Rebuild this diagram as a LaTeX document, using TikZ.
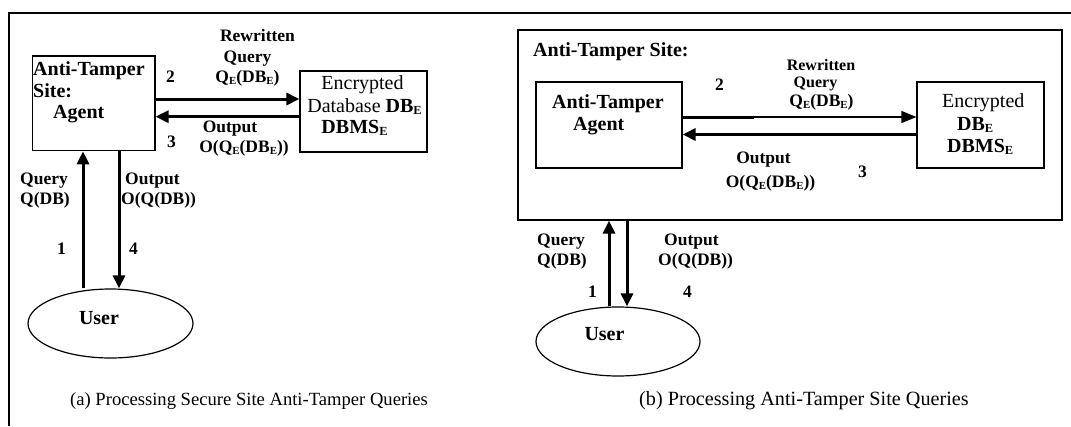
\documentclass[tikz,border=0pt]{standalone}
\usepackage{fontspec}
\setmainfont{Liberation Serif}
\usetikzlibrary{arrows.meta,shapes.geometric}
% small lowered subscript E
\newcommand{\sE}{\raisebox{-0.28ex}{\scalebox{0.62}{E}}}
\newcommand{\fsz}[1]{\fontsize{#1}{#1}\selectfont}
\begin{document}
\begin{tikzpicture}[x=1pt,y=-1pt,
  box/.style={draw,line width=1.2pt,inner sep=0pt},
  frameline/.style={line width=2.2pt},
  flow/.style={line width=3pt,-{Triangle[length=13pt,width=12pt]}},
  thinflow/.style={line width=1.2pt,-{Triangle[length=15pt,width=12pt]}},
  big/.style={font=\fsz{20}\bfseries,inner sep=0pt},
  plain/.style={font=\fsz{20},inner sep=0pt},
  lab/.style={font=\fsz{17.5}\bfseries,inner sep=0pt},
  smalllab/.style={font=\fsz{16}\bfseries,inner sep=0pt},
  captext/.style={inner sep=0pt,anchor=base west},
  userell/.style={draw,line width=1.2pt,ellipse,inner sep=0pt}]
\useasboundingbox (0,0) rectangle (1071,426);
\fill[white] (0,0) rectangle (1071,426);

% outer frame
\draw[frameline] (9,426) -- (9,12.7) -- (1071,12.7);

% ---------------- (a) ----------------
\node[box,minimum width=122.3pt,minimum height=94.7pt] (agA) at (93.85,103.35) {};
\node[box,minimum width=127pt,minimum height=81pt] (encA) at (363.5,111.5) {};
\node[userell,minimum width=165pt,minimum height=69pt] (userA) at (110.5,323.5) {};

\node[big,anchor=base west] (agA1) at (33,75) {Anti-Tamper};
\node[big,anchor=base west] (agA2) at (33,97) {Site:};
\node[big,anchor=base west] (agA3) at (53,118) {Agent};

\node[plain,anchor=base] (encA1) at (362.5,89) {Encrypted};
\node[plain,anchor=base] (encA2) at (364.5,112) {Database \textbf{DB\sE}};
\node[big,anchor=base] (encA3) at (354.5,133) {DBMS\sE};

\node[big,anchor=base] (userAt) at (99,324) {User};

\node[lab,anchor=base] (rwA1) at (257.5,41) {Rewritten};
\node[lab,anchor=base] (rwA2) at (247.5,62) {Query};
\node[lab,anchor=base] (rwA3) at (247.5,82) {Q\sE(DB\sE)};
\node[lab,anchor=base west] (nA2) at (166,82) {2};
\node[lab,anchor=base west] (nA3) at (167,147) {3};
\node[lab,anchor=base] (outA1) at (230,132) {Output};
\node[lab,anchor=base] (outA2) at (244,152) {O(Q\sE(DB\sE))};

\node[lab,anchor=base west] (qA1) at (20,184) {Query};
\node[lab,anchor=base west] (qA2) at (20,204) {Q(DB)};
\node[lab,anchor=base west] (oA1) at (125,184) {Output};
\node[lab,anchor=base west] (oA2) at (121,204) {O(Q(DB))};
\node[lab,anchor=base west] (nA1) at (57,254) {1};
\node[lab,anchor=base west] (nA4) at (129,254) {4};

\coordinate (fwA) at (0,99);
\coordinate (bkA) at (0,116.7);
\coordinate (upA) at (83,0);
\coordinate (dnA) at (119,0);
\draw[flow] (agA.east |- fwA) -- (encA.west |- fwA);
\draw[flow] (encA.west |- bkA) -- (agA.east |- bkA);
\draw[flow] (upA |- userA.north) -- (upA |- agA.south);
\draw[flow] (dnA |- agA.south) -- (dnA |- userA.north);

\node[captext,font=\fsz{18.6}] (capA) at (70,405) {(a) Processing Secure Site Anti-Tamper Queries};

% ---------------- (b) ----------------
\node[box,minimum width=544pt,minimum height=190pt] (site) at (790,125) {};
\node[big,anchor=base west] (siteT) at (533,56) {Anti-Tamper Site:};

\node[box,minimum width=146pt,minimum height=86pt] (agB) at (609,125) {};
\node[box,minimum width=127pt,minimum height=86pt] (encB) at (980.5,125) {};
\node[userell,minimum width=164pt,minimum height=69pt] (userB) at (618,341.5) {};

\node[big,anchor=base west] (agB1) at (552,108) {Anti-Tamper};
\node[big,anchor=base west] (agB2) at (573,130) {Agent};

\node[plain,anchor=base west] (encB1) at (942,107) {Encrypted};
\node[big,anchor=base west] (encB2) at (957,130) {DB\sE};
\node[big,anchor=base west] (encB3) at (947,152) {DBMS\sE};

\node[big,anchor=base] (userBt) at (604.5,340) {User};

\node[lab,anchor=base west] (nB2) at (715,90) {2};
\node[lab,anchor=base west] (nB3) at (858,177) {3};
\node[smalllab,anchor=base] (rwB1) at (821,70) {Rewritten};
\node[smalllab,anchor=base] (rwB2) at (815.5,87) {Query};
\node[lab,anchor=base] (rwB3) at (821.5,106) {Q\sE(DB\sE)};
\node[lab,anchor=base] (outB1) at (763.5,163) {Output};
\node[lab,anchor=base] (outB2) at (770.5,187) {O(Q\sE(DB\sE))};

\node[lab,anchor=base west] (qB1) at (537,245) {Query};
\node[lab,anchor=base west] (qB2) at (537,265) {Q(DB)};
\node[lab,anchor=base west] (oB1) at (664,245) {Output};
\node[lab,anchor=base west] (oB2) at (658,265) {O(Q(DB))};
\node[lab,anchor=base west] (nB1) at (588,297) {1};
\node[lab,anchor=base west] (nB4) at (683,297) {4};

\coordinate (fwB) at (0,117);
\coordinate (bkB) at (0,134.5);
\coordinate (split) at (754,117);
\coordinate (upB) at (609,0);
\coordinate (dnB) at (627,0);
\draw[line width=3pt] (agB.east |- fwB) -- (split);
\draw[thinflow] (split) -- (encB.west |- fwB);
\draw[flow] (encB.west |- bkB) -- (agB.east |- bkB);
\draw[flow] (upB |- userB.north) -- (upB |- site.south);
\draw[flow] (dnB |- site.south) -- (dnB |- userB.north);

\node[captext,font=\fsz{20.2}] (capB) at (639,405) {(b) Processing Anti-Tamper Site Queries};
\end{tikzpicture}
\end{document}
